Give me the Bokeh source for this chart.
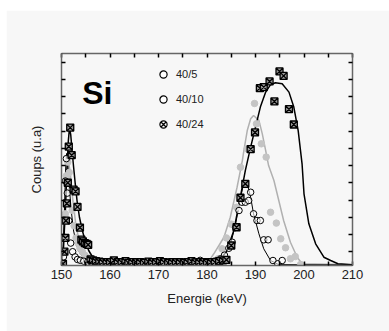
from bokeh.plotting import figure
from bokeh.models import LinearAxis, FixedTicker, Legend, LegendItem, Label, Spacer
from bokeh.layouts import column, row
from bokeh.embed import file_html
from bokeh.resources import INLINE

# ---------------- data (energy keV, counts a.u.) ----------------
x_major = [150, 160, 170, 180, 190, 200, 210]
x_minor = [155, 165, 175, 185, 195, 205]
y_ticks = [0.8, 1.8, 2.8, 3.8, 4.8, 5.8, 6.8, 7.8, 8.8, 9.8, 10.8, 11.8]

# 40/24 measured points
e24 = [150.3, 150.6, 150.8, 150.9, 151.1, 151.3, 151.5, 151.8, 152.1, 152.5, 152.9, 153.3,
       153.8, 154.1, 154.4, 154.8, 155.2, 155.5, 156.0, 156.5, 157.1, 157.8, 158.5, 159.3,
       160.0, 160.8, 161.6, 162.4, 163.2, 163.8, 164.6, 165.4, 166.2, 167.0, 167.9, 168.7,
       169.5, 170.3, 171.1, 172.0, 172.8, 173.6, 174.4, 175.2, 176.0, 176.8, 177.6, 178.4,
       179.2, 180.0, 180.8, 181.6, 182.5, 183.3, 184.0, 185.0, 186.1, 186.9, 187.9, 189.0,
       189.9, 190.9, 191.7, 192.9, 193.9, 194.95, 195.8, 196.9, 197.9]
c24 = [0.1, 0.8, 1.6, 2.6, 3.6, 4.8, 6.9, 8.0, 6.4, 4.4, 4.3, 3.4,
       2.2, 1.5, 1.4, 1.3, 1.25, 1.2, 0.35, 0.3, 0.25, 0.22, 0.2, 0.2,
       0.18, 0.3, 0.2, 0.18, 0.25, 0.15, 0.2, 0.18, 0.2, 0.15, 0.22, 0.2,
       0.18, 0.25, 0.2, 0.15, 0.2, 0.18, 0.2, 0.15, 0.2, 0.25, 0.18, 0.2,
       0.2, 0.15, 0.2, 0.2, 0.25, 0.3, 0.33, 1.16, 2.22, 3.93, 4.74, 6.75,
       7.72, 10.29, 10.35, 10.68, 9.52, 11.26, 11.0, 9.07, 8.18]

# 40/5 measured points
e05 = [150.4, 150.6, 150.8, 151.0, 151.2, 151.5, 151.9, 152.3, 152.8, 153.3, 153.9, 154.6,
       155.4, 156.2, 157.4, 158.6, 159.8, 161.0, 162.2, 163.4, 164.6, 165.8, 167.0, 168.2,
       169.4, 170.6, 171.8, 173.0, 174.2, 175.4, 176.6, 177.8, 178.6, 179.6, 180.7, 181.5,
       182.8, 183.6, 184.5, 185.2, 185.9, 186.6, 187.2, 187.9, 188.6, 189.0, 189.6, 190.3,
       191.0, 191.7, 192.6, 193.6, 194.6, 195.5]
c05 = [0.5, 1.6, 4.9, 6.2, 4.2, 2.6, 1.3, 0.8, 0.5, 0.35, 0.3, 0.25,
       0.2, 0.18, 0.15, 0.12, 0.15, 0.12, 0.1, 0.15, 0.12, 0.1, 0.12, 0.15,
       0.1, 0.12, 0.1, 0.15, 0.12, 0.1, 0.12, 0.15, 0.3, 0.12, 0.19, 0.25,
       0.39, 0.6, 1.0, 1.35, 2.2, 3.19, 3.67, 3.67, 3.77, 4.25, 3.0, 2.61,
       2.61, 1.49, 1.49, 0.29, 0.1, 0.29]

# 40/10 measured points
e10 = [150.5, 150.8, 151.0, 151.3, 151.6, 151.9, 152.2, 152.6, 153.0, 153.4, 153.8, 154.3,
       154.8, 155.4, 156.0, 156.7, 157.8, 159.0, 160.2, 161.4, 162.6, 163.8, 165.0, 166.2,
       167.4, 168.6, 169.8, 171.0, 172.2, 173.4, 174.6, 175.8, 177.0, 178.2, 179.4, 180.6,
       181.5, 182.3, 183.1, 184.0, 185.0, 186.1, 186.9, 188.3, 189.8, 190.2, 191.2, 192.2,
       193.1, 194.3, 195.2, 196.2, 197.2, 198.2, 199.3]
c10 = [0.8, 3.0, 5.2, 6.0, 5.4, 4.3, 3.2, 2.3, 1.6, 1.3, 1.0, 0.8,
       0.6, 0.45, 0.35, 0.28, 0.2, 0.18, 0.15, 0.18, 0.15, 0.12, 0.15, 0.12,
       0.15, 0.12, 0.15, 0.12, 0.15, 0.12, 0.15, 0.12, 0.15, 0.18, 0.2, 0.15,
       0.2, 0.39, 0.97, 1.6, 2.4, 3.38, 5.7, 6.77, 9.4, 8.22, 7.06, 6.29,
       3.09, 2.46, 1.55, 1.03, 0.39, 0.52, 0.06]

# fitted curves
fe24 = [150.0, 150.4, 150.8, 151.1, 151.4, 151.65, 151.9, 152.2, 152.5, 152.85, 153.2, 153.7,
        154.3, 154.9, 155.6, 156.5, 157.6, 159.0, 165.0, 175.0, 180.0, 182.0, 184.0, 185.5,
        186.7, 187.9, 189.0, 190.0, 191.0, 192.1, 193.1, 194.1, 195.5, 196.9, 197.9, 198.8,
        199.6, 200.0, 201.0, 202.4, 204.1, 205.5, 207.0, 210.0]
fc24 = [0.05, 1.0, 3.2, 5.4, 7.2, 8.0, 7.6, 6.6, 5.7, 4.7, 3.77, 2.8,
        2.03, 1.4, 0.87, 0.45, 0.19, 0.12, 0.1, 0.1, 0.12, 0.15, 0.8, 2.0,
        3.7, 5.5, 6.87, 8.03, 9.19, 10.06, 10.49, 10.6, 10.55, 10.06, 9.19, 7.83,
        5.9, 4.16, 2.42, 1.26, 0.48, 0.29, 0.1, 0.05]

fe05 = [150.0, 150.3, 150.6, 150.85, 151.05, 151.3, 151.6, 152.0, 152.5, 153.1, 153.8, 154.7,
        155.8, 157.5, 165.0, 175.0, 178.7, 180.5, 182.8, 184.8, 185.9, 186.8, 187.6, 188.3,
        189.0, 189.6, 190.7, 191.7, 193.1, 194.8, 210.0]
fc05 = [0.05, 0.8, 3.2, 5.6, 6.5, 5.9, 4.6, 3.2, 2.0, 1.2, 0.7, 0.4,
        0.22, 0.12, 0.08, 0.08, 0.08, 0.12, 0.29, 1.16, 2.42, 3.77, 4.83, 4.74,
        3.96, 3.0, 1.84, 0.97, 0.29, 0.05, 0.03]

fe10 = [150.0, 150.4, 150.8, 151.1, 151.4, 151.8, 152.3, 152.9, 153.5, 154.2, 155.0, 156.0,
        157.5, 160.0, 170.0, 179.0, 180.5, 181.4, 183.5, 184.8, 186.2, 187.3, 187.6, 188.3,
        189.0, 189.6, 190.7, 191.4, 192.1, 192.7, 193.8, 194.8, 195.8, 197.2, 198.6, 199.6, 210.0]
fc10 = [0.1, 1.0, 3.8, 5.6, 6.1, 5.4, 3.9, 2.5, 1.6, 1.0, 0.6, 0.35,
        0.2, 0.12, 0.1, 0.12, 0.3, 0.68, 1.64, 2.8, 4.54, 6.1, 6.67, 7.83,
        8.51, 8.7, 8.42, 7.64, 6.67, 5.8, 4.93, 3.77, 2.61, 1.35, 0.48, 0.1, 0.05]

series_names = ["40/5", "40/10", "40/24"]
title_text = "Si"
x_title = "Energie (keV)"
y_title = "Coups (u.a)"

# ---------------- figure ----------------
BG = "#f7f7f7"
FONT = "Liberation Sans"

p = figure(width=383, height=321, x_range=(150, 210), y_range=(0, 12.3),
           output_backend="svg", toolbar_location=None,
           min_border_left=55, min_border_right=37, min_border_top=43, min_border_bottom=66,
           background_fill_color=BG, border_fill_color=BG, outline_line_color=None)
p.grid.visible = False

def style_axis(ax):
    ax.axis_line_color = "#666666"
    ax.axis_line_width = 1.5
    for pre in ("major", "minor"):
        setattr(ax, pre + "_tick_line_color", "black")
        setattr(ax, pre + "_tick_line_width", 1.5)
        setattr(ax, pre + "_tick_in", 4)
        setattr(ax, pre + "_tick_out", 0)
    ax.major_label_text_font = FONT
    ax.major_label_text_color = "#222222"
    ax.major_label_text_font_size = "13px"
    ax.axis_label_text_font = FONT
    ax.axis_label_text_font_style = "normal"
    ax.axis_label_text_color = "#222222"
    ax.axis_label_text_font_size = "13px"

xb = p.xaxis[0]
xb.ticker = FixedTicker(ticks=x_major, minor_ticks=x_minor)
style_axis(xb)
xb.major_label_standoff = 4
xb.axis_label = x_title
xb.axis_label_standoff = 9

yl = p.yaxis[0]
yl.ticker = FixedTicker(ticks=[], minor_ticks=y_ticks)
style_axis(yl)
yl.major_label_standoff = 0
yl.axis_label = y_title
yl.axis_label_standoff = 18

xt = LinearAxis(ticker=FixedTicker(ticks=[], minor_ticks=x_major + x_minor))
style_axis(xt)
xt.major_label_standoff = 0
p.add_layout(xt, "above")
yr = LinearAxis(ticker=FixedTicker(ticks=[], minor_ticks=y_ticks))
style_axis(yr)
yr.major_label_standoff = 0
p.add_layout(yr, "right")

# fit curves
p.line(fe10, fc10, line_color="#b0b0b0", line_width=1.5)
p.line(fe05, fc05, line_color="black", line_width=1)
p.line(fe24, fc24, line_color="black", line_width=1.5)

# measured points
p.scatter(e10, c10, marker="circle", size=6.5, fill_color="#c4c4c4", line_color="#c4c4c4")
p.scatter(e05, c05, marker="circle", size=6.5, fill_color="white", fill_alpha=0.6,
          line_color="black", line_width=1)
p.scatter(e24, c24, marker="square_x", size=7, fill_color="#999999",
          line_color="black", line_width=1.3)

# legend (markers as drawn in the original legend); one NaN point so nothing shows in the plot
nan = float("nan")
l1 = p.scatter([nan], [nan], marker="circle", fill_color="white", line_color="black", line_width=1.2)
l2 = p.scatter([nan], [nan], marker="circle", fill_color="white", line_color="black", line_width=1.2)
l3 = p.scatter([nan], [nan], marker="circle_x", fill_color="white", line_color="black", line_width=1.2)
legend = Legend(items=[LegendItem(label=series_names[0], renderers=[l1]),
                       LegendItem(label=series_names[1], renderers=[l2]),
                       LegendItem(label=series_names[2], renderers=[l3])],
                location=(93, 132), orientation="vertical",
                glyph_width=18, glyph_height=18, label_height=18, spacing=7,
                label_standoff=4, padding=0, margin=0,
                label_text_font=FONT, label_text_font_size="11px", label_text_color="#222222",
                border_line_color=None, background_fill_alpha=0)
p.add_layout(legend)

p.add_layout(Label(x=154.27, y=10.0, text=title_text, text_font=FONT, text_font_size="32px",
                   text_font_style="bold", text_color="black", text_baseline="alphabetic"))

layout = column(Spacer(height=10, width=389),
                row(Spacer(width=6, height=321), p, spacing=0),
                spacing=0, styles={"background-color": "white"})

open("out.html", "w").write(file_html(layout, INLINE))
